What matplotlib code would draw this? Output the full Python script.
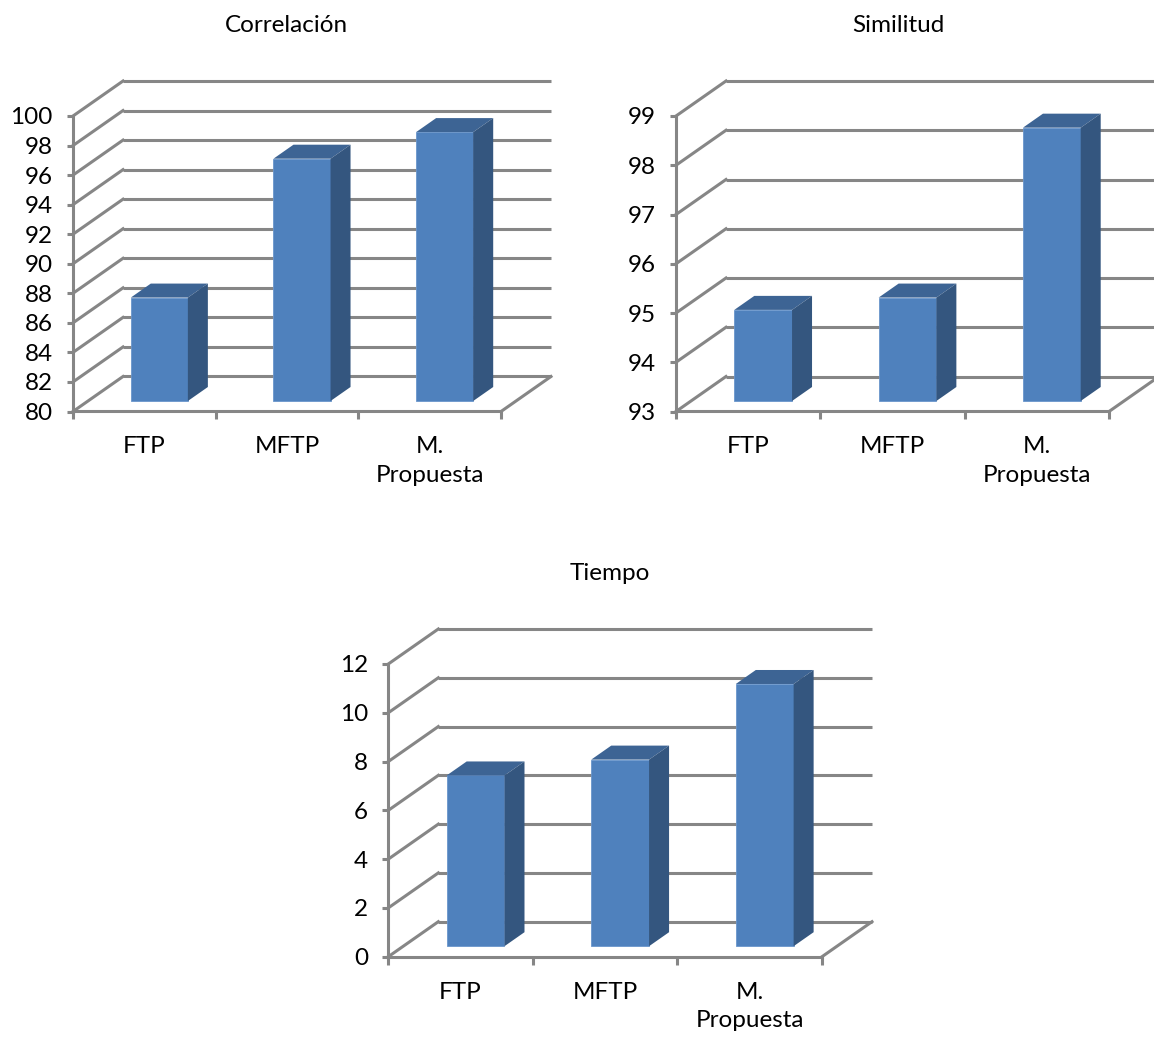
import numpy as np
import matplotlib
matplotlib.use("Agg")
import matplotlib.pyplot as plt
from matplotlib.patches import Polygon

plt.rcParams['font.family'] = ['Lato', 'DejaVu Sans']
plt.rcParams['font.size'] = 17.5

categorias = ["FTP", "MFTP", "M.\nPropuesta"]

correlacion = [87.0, 96.4, 98.2]
similitud = [94.85, 95.1, 98.55]
tiempo = [7.0, 7.65, 10.75]

ticks_corr = list(range(80, 101, 2))
ticks_sim = list(range(93, 100))
ticks_tiempo = list(range(0, 13, 2))

W, H = 1154, 1039
GRIS = "#868686"
FRENTE = "#4F81BD"
LADO = "#34567F"
TAPA = "#3D6494"
LW = 2.2
DX_PX, DY_PX = 50, 35   # desplazamiento de la pared del fondo
F1, F2 = 0.3, 0.7       # profundidad de las barras

fig = plt.figure(figsize=(W / 100, H / 100), dpi=100)


def panel(left, right, top, bottom, valores, ticks, titulo, tx, ty):
    ax = fig.add_axes([left / W, 1 - bottom / H, (right - left) / W, (bottom - top) / H])
    vmin, vmax = ticks[0], ticks[-1]
    ax.set_xlim(-0.5, 2.5)
    ax.set_ylim(vmin, vmax)
    ax.patch.set_visible(False)

    # desplazamiento en unidades de datos
    dx = DX_PX / ((right - left) / 3)
    dy = DY_PX / ((bottom - top) / (vmax - vmin))

    for s in ["top", "right"]:
        ax.spines[s].set_visible(False)
    for s in ["left", "bottom"]:
        ax.spines[s].set_color(GRIS)
        ax.spines[s].set_linewidth(LW)

    ax.set_yticks(ticks)
    ax.tick_params(axis="y", length=4.5, width=LW, color=GRIS, pad=10)
    ax.set_xticks([-0.5, 0.5, 1.5, 2.5])
    ax.set_xticklabels([])
    ax.tick_params(axis="x", which="major", length=6, width=LW, color=GRIS)
    ax.set_xticks(range(len(categorias)), minor=True)
    ax.set_xticklabels(categorias, minor=True)
    ax.tick_params(axis="x", which="minor", length=0, pad=18)
    for lab in ax.get_xticklabels(minor=True):
        lab.set_linespacing(1.42)

    # pared del fondo y pared izquierda
    for v in ticks:
        ax.plot([-0.5 + dx, 2.5 + dx], [v + dy, v + dy], color=GRIS, lw=LW,
                clip_on=False, zorder=1, solid_capstyle="butt")
        ax.plot([-0.5, -0.5 + dx], [v, v + dy], color=GRIS, lw=LW,
                clip_on=False, zorder=1)
    # borde derecho del suelo
    ax.plot([2.5, 2.5 + dx], [vmin, vmin + dy], color=GRIS, lw=LW,
            clip_on=False, zorder=1)

    # barras
    w = 0.4
    x = np.arange(len(valores))
    ax.bar(x + F1 * dx, np.array(valores) - vmin, width=w, bottom=vmin + F1 * dy,
           color=FRENTE, edgecolor="#6A96CC", linewidth=0.6, zorder=3, clip_on=False)
    p = (F2 - F1)
    for xi, v in zip(x, valores):
        x0 = xi + F1 * dx - w / 2
        x1 = xi + F1 * dx + w / 2
        y0 = vmin + F1 * dy
        y1 = v + F1 * dy
        tapa = Polygon([(x0, y1), (x1, y1), (x1 + p * dx, y1 + p * dy), (x0 + p * dx, y1 + p * dy)],
                       closed=True, facecolor=TAPA, edgecolor="none", zorder=3, clip_on=False)
        lado = Polygon([(x1, y0), (x1 + p * dx, y0 + p * dy), (x1 + p * dx, y1 + p * dy), (x1, y1)],
                       closed=True, facecolor=LADO, edgecolor="none", zorder=3, clip_on=False)
        ax.add_patch(tapa)
        ax.add_patch(lado)

    fig.text(tx / W, 1 - ty / H, titulo, ha="center", va="baseline")
    return ax


panel(73, 501, 116, 411.5, correlacion, ticks_corr, "Correlación", 286, 32)
panel(676, 1109, 116, 411.5, similitud, ticks_sim, "Similitud", 898, 32)
panel(388.3, 822, 664, 956.7, tiempo, ticks_tiempo, "Tiempo", 610, 580)

fig.savefig("out.png", dpi=100)
